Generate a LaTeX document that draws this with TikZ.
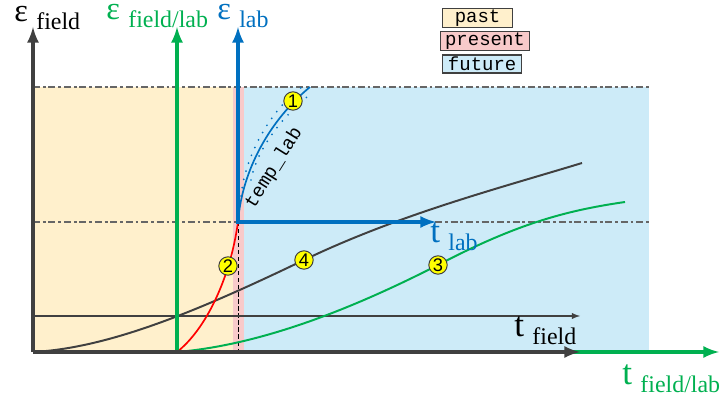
\documentclass[tikz,border=0pt]{standalone}
\usepackage{fontspec}
\setmainfont{Liberation Serif}
\setsansfont{Liberation Sans}
\setmonofont{Liberation Mono}
\usepackage{tikz}
\definecolor{axgray}{HTML}{404040}
\definecolor{fgreen}{HTML}{00B050}
\definecolor{lblue}{HTML}{0070C0}
\definecolor{pastfill}{HTML}{FFF0CC}
\definecolor{presfill}{HTML}{F8CACA}
\definecolor{futfill}{HTML}{CDEBF8}
\definecolor{ptyellow}{HTML}{FFFF00}
\newcommand{\axlab}[3][25]{{\fontsize{#1}{#1}\selectfont #2}\hspace{6pt}\raisebox{-5pt}{\fontsize{17}{17}\selectfont #3}}
\tikzset{
  legbox/.style={draw=axgray,line width=0.8pt,font=\ttfamily\fontsize{13.5}{13.5}\selectfont,minimum height=0.45cm,inner sep=1pt,anchor=west},
  ptmark/.style={circle,draw=axgray,fill=ptyellow,line width=0.7pt,minimum size=0.46cm,inner sep=0pt,font=\sffamily\fontsize{13}{13}\selectfont},
  guide/.style={axgray!80,line width=0.9pt,dash pattern=on 5pt off 2pt on 2pt off 2pt},
  axlabel/.style={anchor=base west,inner sep=0pt},
}

\begin{document}
\begin{tikzpicture}[x=0.025cm,y=-0.025cm]
        \useasboundingbox (0,0) rectangle (726,400);
        \fill[pastfill] (33,87) rectangle (233,350);
        \fill[presfill] (233,87) rectangle (244,350);
        \fill[futfill] (244,87) rectangle (649,350);
        \coordinate (fo) at (33,352);
        \coordinate (fy) at (33,27);
        \coordinate (fx) at (580,352);
        \coordinate (go) at (177,352);
        \coordinate (gy) at (177,27);
        \coordinate (gx) at (719,352);
        \coordinate (lo) at (238,222);
        \coordinate (ly) at (238,27);
        \coordinate (lx) at (436,222);
        \coordinate (lb) at (238,352);
        \coordinate (tl) at (33,316);
        \coordinate (tr) at (580,316);
        \coordinate (hl) at (33,87);
        \coordinate (hr) at (650,87);
        \coordinate (ml) at (33,222);
        \coordinate (mr) at (650,222);
        \draw[guide] (hl) -- (hr);
        \draw[guide] (ml) -- (mr);
        \draw[black,line width=0.6pt,densely dashed] (lo) -- (lb);
        \draw[axgray,line width=1pt,-latex] (tl) -- (tr);
        \draw[axgray,line width=1.4pt] (fo) .. controls (110,348) and (200,310) .. (304,260)
              .. controls (400,214) and (500,188) .. (582,163);
        \draw[fgreen,line width=1.4pt] (go) .. controls (260,345) and (350,310) .. (438,265)
              .. controls (520,222) and (570,210) .. (625,202);
        \draw[red,line width=1.2pt] (go) .. controls (205,330) and (230,280) .. (lo);
        \draw[lblue,line width=1.2pt] (lo) .. controls (242,170) and (270,120) .. (310,87);
        \draw[lblue,line width=1.4pt,line cap=round,dash pattern=on 0pt off 6pt] (241,196) .. controls (245,158) and (268,112) .. (302,87);
        \draw[lblue,line width=1.4pt,line cap=round,dash pattern=on 0pt off 6pt] (251,180) .. controls (257,150) and (280,118) .. (312,93);
        \draw[fgreen,line width=2.8pt,-latex] (go) -- (gx);
        \draw[fgreen,line width=2.8pt,-latex] (go) -- (gy);
        \draw[axgray,line width=2.8pt,-latex] (fo) -- (fx);
        \draw[axgray,line width=2.8pt,-latex] (fo) -- (fy);
        \draw[lblue,line width=2.8pt,latex-latex] (ly) -- (lo) -- (lx);
        \node[ptmark] (p1) at (293,101) {1};
        \node[ptmark] (p2) at (228,266) {2};
        \node[ptmark] (p3) at (438,265) {3};
        \node[ptmark] (p4) at (304,260) {4};
        \node[rotate=58,font=\ttfamily\fontsize{13.5}{13.5}\selectfont,inner sep=0pt] (tmp) at (274,168) {temp\_lab};
        \node[legbox,fill=pastfill,minimum width=1.75cm] (past) at (442,18) {past};
        \node[legbox,fill=presfill,minimum width=2.22cm] (pres) at (440,41) {present};
        \node[legbox,fill=futfill,minimum width=1.98cm] (fut) at (442,64) {future};
        \node[axlabel,black] (efield) at (14,22) {\axlab[23]{ε}{field}};
        \node[axlabel,fgreen] (efl) at (106,20) {\axlab[23]{ε}{field/lab}};
        \node[axlabel,lblue] (elab) at (217,20) {\axlab[23]{ε}{lab}};
        \node[axlabel,lblue] (tlab) at (430,243) {\axlab{t}{lab}};
        \node[axlabel,black] (tfield) at (514,337) {\axlab{t}{field}};
        \node[axlabel,fgreen] (tfl) at (622,385) {\axlab{t}{field/lab}};
      \end{tikzpicture}
\end{document}
